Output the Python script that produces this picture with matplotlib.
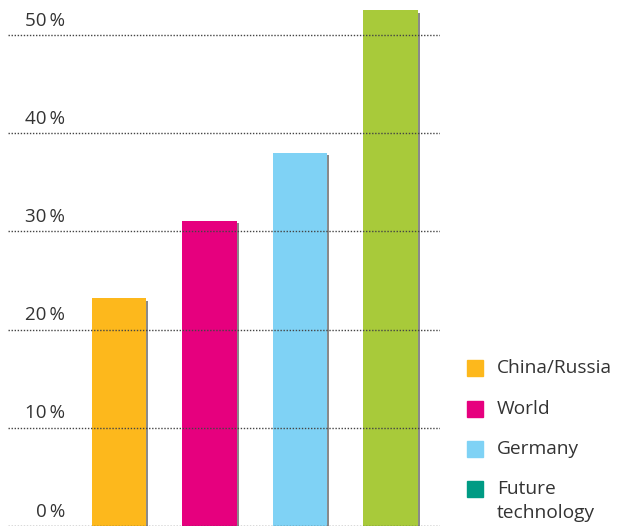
import matplotlib.pyplot as plt
from matplotlib.patches import Rectangle
from matplotlib.transforms import blended_transform_factory

# --- data ---
categories = ['China/Russia', 'World', 'Germany', 'Future technology']
values = [23.2, 31.1, 38.0, 52.5]
bar_colors = ['#FDB81C', '#E6007E', '#7FD2F5', '#A8CA3A']
legend_labels = ['China/Russia', 'World', 'Germany', 'Future', 'technology']
legend_colors = ['#FDB81C', '#E6007E', '#7FD2F5', '#009B84', None]
tick_values = [0, 10, 20, 30, 40, 50]

plt.rcParams['font.family'] = ['Open Sans', 'DejaVu Sans']

fig = plt.figure(figsize=(6.17, 5.31), dpi=100)
W, H = 617, 531
ax = fig.add_axes([8 / W, 5 / H, 432 / W, 525.4 / H])
ax.set_xlim(-1.227, 3.547)
ax.set_ylim(0, 53.5)
ax.axis('off')

x = list(range(len(values)))
# soft shadow behind the bars
ax.bar([i + 0.025 for i in x], values, width=0.6, bottom=-0.25,
       color='#2a2a2a', alpha=0.55, zorder=1)
ax.bar(x, values, width=0.6, color=bar_colors, zorder=2)

# dotted grid lines on top
for v in tick_values:
    ax.axhline(v, color='#444444', linestyle=(0, (1, 1.2)), linewidth=1.0, zorder=3)

trans = blended_transform_factory(ax.transAxes, ax.transData)
for v in tick_values:
    ax.text(0.132, v + 0.95, f'{v}\u2009%', transform=trans, ha='right', va='baseline',
            fontsize=13.5, color='#333333', zorder=4)

# legend, drawn by hand
rows_y = [368, 409, 449, 489, 513]
for lab, col, yy in zip(legend_labels, legend_colors, rows_y):
    if col:
        fig.patches.append(Rectangle((467 / W, 1 - (yy + 8) / H), 16 / W, 16 / H,
                                     transform=fig.transFigure, color=col))
    fig.text(497 / W, 1 - yy / H, lab, ha='left', va='center',
             fontsize=13.8, color='#333333')

fig.savefig('out.png', dpi=100)
